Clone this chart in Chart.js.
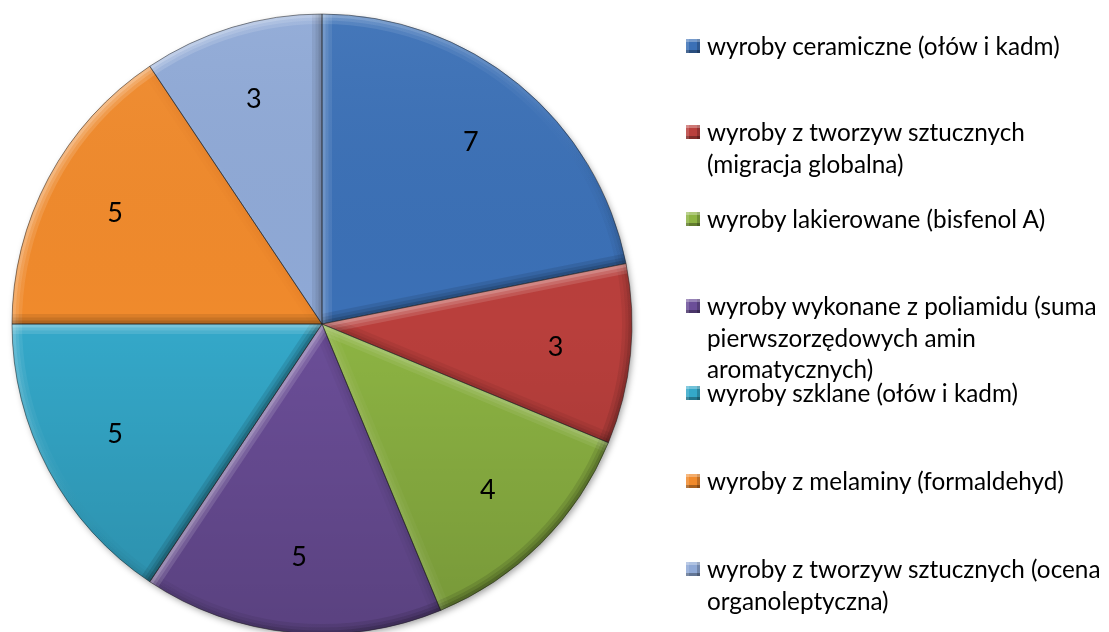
<!DOCTYPE html>
<html><head><meta charset="utf-8">
<script src="https://cdn.jsdelivr.net/npm/chart.js@4.4.0/dist/chart.umd.min.js"></script>
<style>
html,body{margin:0;padding:0;background:#fff;overflow:hidden;width:1109px;height:632px;}
#wrap{position:absolute;left:0;top:0;width:644px;height:648px;}
#legend{position:absolute;left:0;top:0;width:1109px;height:632px;pointer-events:none;font-family:Lato,"Open Sans",sans-serif;font-size:24.3px;color:#000;}
.item{position:absolute;left:707px;line-height:31.5px;white-space:nowrap;}
.mk{position:absolute;left:686px;width:14px;height:14px;box-sizing:border-box;}
</style></head>
<body>
<div id="wrap"><canvas id="c"></canvas></div>
<div id="legend"></div>
<script>
const categories = [
  "wyroby ceramiczne (ołów i kadm)",
  "wyroby z tworzyw sztucznych (migracja globalna)",
  "wyroby lakierowane (bisfenol A)",
  "wyroby wykonane z poliamidu (suma pierwszorzędowych amin aromatycznych)",
  "wyroby szklane (ołów i kadm)",
  "wyroby z melaminy (formaldehyd)",
  "wyroby z tworzyw sztucznych (ocena organoleptyczna)"
];
const legendLines = [
  ["wyroby ceramiczne (ołów i kadm)"],
  ["wyroby z tworzyw sztucznych", "(migracja globalna)"],
  ["wyroby lakierowane (bisfenol A)"],
  ["wyroby wykonane z poliamidu (suma", "pierwszorzędowych amin", "aromatycznych)"],
  ["wyroby szklane (ołów i kadm)"],
  ["wyroby z melaminy (formaldehyd)"],
  ["wyroby z tworzyw sztucznych (ocena", "organoleptyczna)"]
];
const values = [7, 3, 4, 5, 5, 5, 3];
const colors = ["#3b70b6", "#b93f3c", "#8db443", "#6b4e98", "#34a8c9", "#f08a2c", "#8fa9d6"];
const legendTop = [30, 116, 203, 290, 377, 465, 553];

// HTML legend
const lg = document.getElementById('legend');
legendLines.forEach((lines, i) => {
  const d = document.createElement('div');
  d.className = 'item';
  d.style.top = legendTop[i] + 'px';
  d.innerHTML = lines.join('<br>');
  lg.appendChild(d);
  const m = document.createElement('div');
  m.className = 'mk';
  m.style.top = (legendTop[i] + 9) + 'px';
  m.style.background = colors[i];
  m.style.boxShadow = 'inset 0 3px 0 rgba(255,255,255,0.3), inset 3px 0 0 rgba(255,255,255,0.15), inset 0 -3px 0 rgba(0,0,0,0.3), inset -3px 0 0 rgba(0,0,0,0.2)';
  lg.appendChild(m);
});

const L = [-0.6, -0.8]; // light direction (towards top-left)
function shade(nx, ny, k) {
  const b = nx * L[0] + ny * L[1];
  return b > 0 ? 'rgba(255,255,255,' + (0.14 * b * k).toFixed(3) + ')' : 'rgba(0,0,0,' + (-0.11 * b * k).toFixed(3) + ')';
}
const bands = [20, 13, 7];

function conic(ctx, x, y, k) {
  const g = ctx.createConicGradient(0, x, y);
  for (let d = 0; d <= 360; d += 10) {
    const a = d * Math.PI / 180;
    g.addColorStop(d / 360, shade(Math.cos(a), Math.sin(a), k));
  }
  return g;
}

const shadowPlugin = {
  id: 'pieshadow',
  beforeDatasetsDraw(chart) {
    const arc = chart.getDatasetMeta(0).data[0];
    if (!arc) return;
    const p = arc.getProps(['x','y','outerRadius']);
    const ctx = chart.ctx;
    ctx.save();
    ctx.shadowColor = 'rgba(0,0,0,0.4)';
    ctx.shadowBlur = 7;
    ctx.shadowOffsetX = 2;
    ctx.shadowOffsetY = 3;
    ctx.fillStyle = '#888';
    ctx.beginPath();
    ctx.arc(p.x, p.y, p.outerRadius - 1, 0, Math.PI * 2);
    ctx.fill();
    ctx.restore();
  }
};

const bevelPlugin = {
  id: 'bevel',
  afterDatasetsDraw(chart) {
    const ctx = chart.ctx;
    const meta = chart.getDatasetMeta(0);
    meta.data.forEach((arc) => {
      const p = arc.getProps(['x','y','startAngle','endAngle','outerRadius']);
      const R = p.outerRadius;
      const s = p.startAngle, e = p.endAngle;
      ctx.save();
      ctx.beginPath();
      ctx.moveTo(p.x, p.y);
      ctx.arc(p.x, p.y, R, s, e);
      ctx.closePath();
      ctx.clip();
      const g = ctx.createLinearGradient(0, p.y - R, 0, p.y + R);
      g.addColorStop(0, 'rgba(255,255,255,0.05)');
      g.addColorStop(0.5, 'rgba(0,0,0,0)');
      g.addColorStop(1, 'rgba(0,0,0,0.16)');
      ctx.fillStyle = g;
      ctx.fillRect(p.x - R, p.y - R, 2 * R, 2 * R);
      bands.forEach((w, bi) => {
        const k = bi === 2 ? 1.4 : 1;
        ctx.lineWidth = w;
        ctx.beginPath();
        ctx.arc(p.x, p.y, R, 0, Math.PI * 2);
        ctx.strokeStyle = conic(ctx, p.x, p.y, k);
        ctx.stroke();
        ctx.beginPath();
        ctx.moveTo(p.x, p.y);
        ctx.lineTo(p.x + Math.cos(s) * R, p.y + Math.sin(s) * R);
        ctx.strokeStyle = shade(Math.sin(s), -Math.cos(s), k);
        ctx.stroke();
        ctx.beginPath();
        ctx.moveTo(p.x, p.y);
        ctx.lineTo(p.x + Math.cos(e) * R, p.y + Math.sin(e) * R);
        ctx.strokeStyle = shade(-Math.sin(e), Math.cos(e), k);
        ctx.stroke();
      });
      ctx.restore();
      ctx.save();
      ctx.beginPath();
      ctx.moveTo(p.x, p.y);
      ctx.arc(p.x, p.y, R, s, e);
      ctx.closePath();
      ctx.lineWidth = 1;
      ctx.strokeStyle = 'rgba(30,30,30,0.5)';
      ctx.stroke();
      ctx.restore();
    });
  }
};

const labelPlugin = {
  id: 'vals',
  afterDatasetsDraw(chart) {
    const ctx = chart.ctx;
    const meta = chart.getDatasetMeta(0);
    ctx.save();
    ctx.font = '27px Lato, "Open Sans", sans-serif';
    ctx.fillStyle = '#000';
    ctx.textAlign = 'center';
    ctx.textBaseline = 'middle';
    meta.data.forEach((arc, i) => {
      const p = arc.getProps(['x','y','startAngle','endAngle','outerRadius']);
      const a = (p.startAngle + p.endAngle) / 2;
      const r = p.outerRadius * 0.757;
      ctx.fillText(String(values[i]), p.x + Math.cos(a) * r, p.y + Math.sin(a) * r);
    });
    ctx.restore();
  }
};

new Chart(document.getElementById('c'), {
  type: 'pie',
  data: {
    labels: categories,
    datasets: [{
      data: values,
      backgroundColor: colors,
      borderWidth: 0
    }]
  },
  options: {
    responsive: true,
    maintainAspectRatio: false,
    animation: false,
    layout: { padding: { left: 12, top: 14, right: 12, bottom: 14 } },
    plugins: { legend: { display: false }, tooltip: { enabled: false } }
  },
  plugins: [shadowPlugin, bevelPlugin, labelPlugin]
});
</script>
</body></html>
